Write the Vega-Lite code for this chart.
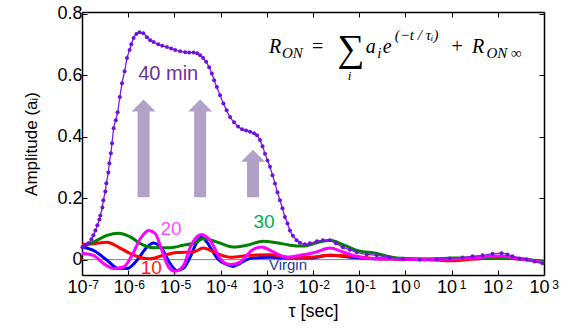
{
  "$schema": "https://vega.github.io/schema/vega-lite/v6.json",
  "width": 462,
  "height": 263,
  "autosize": {"type": "none"},
  "padding": {"left": 82, "top": 12, "right": 24, "bottom": 58},
  "background": "white",
  "config": {"view": {"stroke": null}, "font": "Liberation Sans"},
  "datasets": {
    "curves": [
      {"s":"Virgin","lt":-7.0,"a":0.041},{"s":"Virgin","lt":-6.754,"a":0.030},{"s":"Virgin","lt":-6.458,"a":-0.002},{"s":"Virgin","lt":-6.214,"a":-0.029},{"s":"Virgin","lt":-6.026,"a":-0.029},{"s":"Virgin","lt":-5.81,"a":-0.002},{"s":"Virgin","lt":-5.594,"a":0.041},{"s":"Virgin","lt":-5.458,"a":0.054},{"s":"Virgin","lt":-5.27,"a":0.036},{"s":"Virgin","lt":-5.091,"a":-0.013},{"s":"Virgin","lt":-4.946,"a":-0.035},{"s":"Virgin","lt":-4.81,"a":-0.029},{"s":"Virgin","lt":-4.659,"a":0.008},{"s":"Virgin","lt":-4.514,"a":0.057},{"s":"Virgin","lt":-4.421,"a":0.073},{"s":"Virgin","lt":-4.292,"a":0.056},{"s":"Virgin","lt":-4.184,"a":0.030},{"s":"Virgin","lt":-4.054,"a":0.001},{"s":"Virgin","lt":-3.881,"a":-0.015},{"s":"Virgin","lt":-3.73,"a":-0.022},{"s":"Virgin","lt":-3.579,"a":-0.012},{"s":"Virgin","lt":-3.363,"a":0.004},{"s":"Virgin","lt":-2.931,"a":0.008},{"s":"Virgin","lt":-2.499,"a":0.005},{"s":"Virgin","lt":-2.067,"a":0.005},{"s":"Virgin","lt":-1.635,"a":0.014},{"s":"Virgin","lt":-1.204,"a":0.008},{"s":"Virgin","lt":-0.62,"a":0.003},{"s":"Virgin","lt":-0.3,"a":0.003},{"s":"Virgin","lt":0,"a":0.002},{"s":"Virgin","lt":0.5,"a":0.001},{"s":"Virgin","lt":1,"a":0.003},{"s":"Virgin","lt":1.5,"a":0.004},{"s":"Virgin","lt":2,"a":0.005},{"s":"Virgin","lt":2.5,"a":0.002},{"s":"Virgin","lt":3,"a":-0.008},
      {"s":"10","lt":-7.0,"a":0.050},{"s":"10","lt":-6.754,"a":0.052},{"s":"10","lt":-6.458,"a":0.057},{"s":"10","lt":-6.214,"a":0.041},{"s":"10","lt":-5.955,"a":0.020},{"s":"10","lt":-5.739,"a":0.007},{"s":"10","lt":-5.523,"a":0.003},{"s":"10","lt":-5.235,"a":0.014},{"s":"10","lt":-4.946,"a":0.023},{"s":"10","lt":-4.587,"a":0.025},{"s":"10","lt":-4.378,"a":0.038},{"s":"10","lt":-4.082,"a":0.020},{"s":"10","lt":-3.795,"a":0.008},{"s":"10","lt":-3.363,"a":0.014},{"s":"10","lt":-2.931,"a":0.016},{"s":"10","lt":-2.499,"a":0.008},{"s":"10","lt":-2.067,"a":0.008},{"s":"10","lt":-1.635,"a":0.014},{"s":"10","lt":-1.204,"a":0.012},{"s":"10","lt":-0.62,"a":0.003},{"s":"10","lt":-0.3,"a":0.002},{"s":"10","lt":0,"a":0.001},{"s":"10","lt":0.5,"a":0.0},{"s":"10","lt":1,"a":-0.004},{"s":"10","lt":1.5,"a":0.002},{"s":"10","lt":2,"a":0.006},{"s":"10","lt":2.5,"a":0.001},{"s":"10","lt":3,"a":-0.008},
      {"s":"30","lt":-7.0,"a":0.041},{"s":"30","lt":-6.754,"a":0.057},{"s":"30","lt":-6.458,"a":0.079},{"s":"30","lt":-6.214,"a":0.086},{"s":"30","lt":-5.955,"a":0.074},{"s":"30","lt":-5.739,"a":0.052},{"s":"30","lt":-5.458,"a":0.039},{"s":"30","lt":-5.091,"a":0.039},{"s":"30","lt":-4.81,"a":0.047},{"s":"30","lt":-4.514,"a":0.057},{"s":"30","lt":-4.378,"a":0.069},{"s":"30","lt":-4.076,"a":0.057},{"s":"30","lt":-3.73,"a":0.041},{"s":"30","lt":-3.428,"a":0.047},{"s":"30","lt":-3.082,"a":0.060},{"s":"30","lt":-2.78,"a":0.055},{"s":"30","lt":-2.499,"a":0.047},{"s":"30","lt":-2.218,"a":0.044},{"s":"30","lt":-1.916,"a":0.055},{"s":"30","lt":-1.635,"a":0.063},{"s":"30","lt":-1.354,"a":0.049},{"s":"30","lt":-1.052,"a":0.030},{"s":"30","lt":-0.62,"a":0.020},{"s":"30","lt":-0.3,"a":0.008},{"s":"30","lt":0,"a":0.004},{"s":"30","lt":0.5,"a":0.002},{"s":"30","lt":1,"a":0.005},{"s":"30","lt":1.5,"a":0.006},{"s":"30","lt":2,"a":0.008},{"s":"30","lt":2.5,"a":0.003},{"s":"30","lt":3,"a":-0.007},
      {"s":"20","lt":-7.0,"a":0.021},{"s":"20","lt":-6.754,"a":0.014},{"s":"20","lt":-6.531,"a":-0.013},{"s":"20","lt":-6.315,"a":-0.029},{"s":"20","lt":-6.099,"a":-0.024},{"s":"20","lt":-5.918,"a":0.014},{"s":"20","lt":-5.739,"a":0.068},{"s":"20","lt":-5.559,"a":0.095},{"s":"20","lt":-5.415,"a":0.085},{"s":"20","lt":-5.27,"a":0.030},{"s":"20","lt":-5.127,"a":-0.024},{"s":"20","lt":-4.983,"a":-0.038},{"s":"20","lt":-4.803,"a":-0.019},{"s":"20","lt":-4.659,"a":0.040},{"s":"20","lt":-4.514,"a":0.074},{"s":"20","lt":-4.421,"a":0.082},{"s":"20","lt":-4.292,"a":0.073},{"s":"20","lt":-4.184,"a":0.053},{"s":"20","lt":-4.011,"a":0.003},{"s":"20","lt":-3.795,"a":-0.016},{"s":"20","lt":-3.579,"a":-0.008},{"s":"20","lt":-3.326,"a":0.030},{"s":"20","lt":-3.11,"a":0.041},{"s":"20","lt":-2.86,"a":0.025},{"s":"20","lt":-2.57,"a":0.008},{"s":"20","lt":-2.283,"a":0.014},{"s":"20","lt":-1.922,"a":0.025},{"s":"20","lt":-1.635,"a":0.038},{"s":"20","lt":-1.348,"a":0.025},{"s":"20","lt":-0.987,"a":0.008},{"s":"20","lt":-0.555,"a":0.003},{"s":"20","lt":-0.3,"a":0.003},{"s":"20","lt":0,"a":0.001},{"s":"20","lt":0.5,"a":0.0},{"s":"20","lt":1,"a":0.002},{"s":"20","lt":1.5,"a":0.006},{"s":"20","lt":2,"a":0.012},{"s":"20","lt":2.5,"a":0.003},{"s":"20","lt":3,"a":-0.010}
    ],
    "purple": [
      {"lt":-6.991,"a":0.040},{"lt":-6.927,"a":0.047},{"lt":-6.862,"a":0.053},{"lt":-6.797,"a":0.066},{"lt":-6.754,"a":0.079},{"lt":-6.711,"a":0.095},{"lt":-6.667,"a":0.112},{"lt":-6.624,"a":0.131},{"lt":-6.603,"a":0.144},{"lt":-6.559,"a":0.170},{"lt":-6.538,"a":0.193},{"lt":-6.495,"a":0.222},{"lt":-6.473,"a":0.249},{"lt":-6.43,"a":0.284},{"lt":-6.408,"a":0.314},{"lt":-6.376,"a":0.346},{"lt":-6.35,"a":0.379},{"lt":-6.315,"a":0.428},{"lt":-6.268,"a":0.454},{"lt":-6.229,"a":0.480},{"lt":-6.181,"a":0.529},{"lt":-6.134,"a":0.574},{"lt":-6.078,"a":0.613},{"lt":-6.026,"a":0.656},{"lt":-5.97,"a":0.682},{"lt":-5.933,"a":0.701},{"lt":-5.883,"a":0.721},{"lt":-5.825,"a":0.734},{"lt":-5.754,"a":0.740},{"lt":-5.674,"a":0.737},{"lt":-5.594,"a":0.724},{"lt":-5.523,"a":0.714},{"lt":-5.451,"a":0.708},{"lt":-5.35,"a":0.701},{"lt":-5.264,"a":0.696},{"lt":-5.162,"a":0.692},{"lt":-5.069,"a":0.687},{"lt":-4.983,"a":0.682},{"lt":-4.875,"a":0.678},{"lt":-4.767,"a":0.675},{"lt":-4.68,"a":0.674},{"lt":-4.587,"a":0.674},{"lt":-4.508,"a":0.672},{"lt":-4.443,"a":0.665},{"lt":-4.378,"a":0.656},{"lt":-4.313,"a":0.644},{"lt":-4.248,"a":0.626},{"lt":-4.19,"a":0.606},{"lt":-4.14,"a":0.584},{"lt":-4.082,"a":0.562},{"lt":-4.011,"a":0.535},{"lt":-3.94,"a":0.508},{"lt":-3.87,"a":0.486},{"lt":-3.795,"a":0.464},{"lt":-3.708,"a":0.447},{"lt":-3.622,"a":0.433},{"lt":-3.536,"a":0.424},{"lt":-3.449,"a":0.420},{"lt":-3.363,"a":0.416},{"lt":-3.277,"a":0.411},{"lt":-3.212,"a":0.405},{"lt":-3.147,"a":0.389},{"lt":-3.093,"a":0.369},{"lt":-3.039,"a":0.345},{"lt":-2.985,"a":0.323},{"lt":-2.931,"a":0.302},{"lt":-2.877,"a":0.275},{"lt":-2.823,"a":0.248},{"lt":-2.769,"a":0.219},{"lt":-2.715,"a":0.193},{"lt":-2.661,"a":0.167},{"lt":-2.607,"a":0.139},{"lt":-2.553,"a":0.118},{"lt":-2.499,"a":0.095},{"lt":-2.434,"a":0.078},{"lt":-2.354,"a":0.063},{"lt":-2.283,"a":0.055},{"lt":-2.175,"a":0.050},{"lt":-2.067,"a":0.053},{"lt":-1.916,"a":0.060},{"lt":-1.786,"a":0.063},{"lt":-1.635,"a":0.063},{"lt":-1.505,"a":0.053},{"lt":-1.354,"a":0.040},{"lt":-1.203,"a":0.032},{"lt":-1.052,"a":0.024},{"lt":-0.836,"a":0.017},{"lt":-0.62,"a":0.014},{"lt":-0.339,"a":0.007},{"lt":-0.058,"a":0.001},{"lt":0.309,"a":0.0},{"lt":0.676,"a":0.001},{"lt":0.957,"a":0.004},{"lt":1.238,"a":0.007},{"lt":1.454,"a":0.011},{"lt":1.67,"a":0.014},{"lt":1.886,"a":0.019},{"lt":2.08,"a":0.021},{"lt":2.21,"a":0.017},{"lt":2.318,"a":0.011},{"lt":2.469,"a":0.004},{"lt":2.62,"a":0.001},{"lt":2.793,"a":-0.006},{"lt":2.966,"a":-0.012}
    ],
    "arrows": [
      {"lt":-5.667,"base":0.203,"neck":0.485,"head":0.502},
      {"lt":-4.443,"base":0.203,"neck":0.485,"head":0.502},
      {"lt":-3.298,"base":0.203,"neck":0.322,"head":0.338}
    ],
    "eq": [
      {"t":"R","g":"big","lt":-2.952,"a":0.671},
      {"t":"a","g":"big","lt":-0.857,"a":0.671},
      {"t":"e","g":"big","lt":-0.49,"a":0.671},
      {"t":"R","g":"big","lt":1.443,"a":0.671},
      {"t":"=","g":"op","lt":-2.02,"a":0.672},
      {"t":"+","g":"op","lt":1.0,"a":0.672},
      {"t":"∑","g":"sum","lt":-1.47,"a":0.646},
      {"t":"ON","g":"small","lt":-2.672,"a":0.656},
      {"t":"i","g":"under","lt":-1.246,"a":0.584},
      {"t":"i","g":"small","lt":-0.609,"a":0.656},
      {"t":"(−t / τᵢ)","g":"small","lt":-0.231,"a":0.714},
      {"t":"ON ∞","g":"small","lt":1.756,"a":0.656}
    ]
  },
  "layer": [
    {
      "data": {"values": [{"a": 0}]},
      "mark": {"type": "rule", "color": "#808080", "strokeWidth": 1},
      "encoding": {"y": {"field": "a", "type": "quantitative", "scale": {"domain": [-0.05, 0.806], "nice": false, "zero": false}, "axis": null}}
    },
    {
      "data": {"name": "arrows"},
      "mark": {"type": "rule", "color": "#b2a1c7", "strokeWidth": 12, "strokeCap": "butt"},
      "encoding": {
        "x": {"field": "lt", "type": "quantitative", "scale": {"domain": [-7, 3], "nice": false, "zero": false},
          "axis": {"orient": "top", "values": [-7,-6,-5,-4,-3,-2,-1,0,1,2,3], "labels": false, "title": null, "grid": false, "tickSize": -5, "tickColor": "black", "tickWidth": 1, "domainColor": "black", "domainWidth": 1.5}},
        "y": {"field": "base", "type": "quantitative", "scale": {"domain": [-0.05, 0.806], "nice": false, "zero": false},
          "axis": {"orient": "right", "values": [0, 0.2, 0.4, 0.6, 0.8], "labels": false, "title": null, "grid": false, "tickSize": -5, "tickColor": "black", "tickWidth": 1, "domainColor": "black", "domainWidth": 1.5}},
        "y2": {"field": "neck"}
      }
    },
    {
      "data": {"name": "arrows"},
      "mark": {"type": "point", "filled": true, "opacity": 1, "color": "#b2a1c7", "shape": "M-1,0.5L0,-0.5L1,0.5Z", "size": 576},
      "encoding": {
        "x": {"field": "lt", "type": "quantitative", "axis": null},
        "y": {"field": "head", "type": "quantitative", "axis": null}
      }
    },
    {
      "data": {"name": "curves"},
      "mark": {"type": "line", "strokeWidth": 3, "interpolate": "monotone"},
      "encoding": {
        "x": {"field": "lt", "type": "quantitative", "scale": {"domain": [-7, 3], "nice": false, "zero": false},
          "axis": {"orient": "bottom", "values": [-7,-6,-5,-4,-3,-2,-1,0,1,2,3], "labelOverlap": false, "labelFlush": false, "labelExpr": "'10'", "labelOffset": -5, "labelFont": "Liberation Sans", "labelFontSize": 18, "labelColor": "black", "labelPadding": 8.5, "title": "τ [sec]", "titleFont": "Liberation Sans", "titleFontSize": 18, "titleFontWeight": "normal", "titleColor": "black", "titlePadding": 6, "grid": false, "tickSize": -5, "tickColor": "black", "tickWidth": 1, "domainColor": "black", "domainWidth": 1.5}},
        "y": {"field": "a", "type": "quantitative", "scale": {"domain": [-0.05, 0.806], "nice": false, "zero": false},
          "axis": {"orient": "left", "values": [0, 0.2, 0.4, 0.6, 0.8], "format": ".1~f", "labelFont": "Liberation Sans", "labelFontSize": 18, "labelColor": "black", "labelPadding": 5, "title": "Amplitude (aᵢ)", "titleFont": "Liberation Sans", "titleFontSize": 17, "titleFontWeight": "normal", "titleColor": "black", "titlePadding": 16, "grid": false, "tickSize": -5, "tickColor": "black", "tickWidth": 1, "domainColor": "black", "domainWidth": 1.5}},
        "color": {"field": "s", "type": "nominal", "scale": {"domain": ["Virgin", "10", "20", "30"], "range": ["#0000ff", "#ff0000", "#ff00ff", "#008000"]}, "legend": null}
      }
    },
    {
      "data": {"name": "purple"},
      "mark": {"type": "line", "strokeWidth": 1.3, "interpolate": "monotone", "color": "#7a1ee6"},
      "encoding": {
        "x": {"field": "lt", "type": "quantitative", "axis": null},
        "y": {"field": "a", "type": "quantitative", "axis": null}
      }
    },
    {
      "data": {"name": "purple"},
      "mark": {"type": "point", "filled": true, "opacity": 1, "size": 16, "color": "#7010e0"},
      "encoding": {
        "x": {"field": "lt", "type": "quantitative",
          "axis": {"orient": "bottom", "values": [-7,-6,-5,-4,-3,-2,-1,0,1,2,3], "labelOverlap": false, "labelFlush": false, "labelExpr": "['-7','-6','-5','-4','-3','-2','-1','0','1','2','3'][round(datum.value)+7]", "labelOffset": 11, "labelFont": "Liberation Sans", "labelFontSize": 12, "labelColor": "black", "labelPadding": 4, "title": null, "grid": false, "ticks": false, "domain": false}},
        "y": {"field": "a", "type": "quantitative", "axis": null}
      }
    },
    {
      "data": {"values": [{"t": "40 min", "lt": -5.134, "a": 0.584}]},
      "mark": {"type": "text", "font": "Liberation Sans", "fontSize": 20, "color": "#7030a0", "align": "center", "baseline": "alphabetic"},
      "encoding": {"x": {"field": "lt", "type": "quantitative", "axis": null}, "y": {"field": "a", "type": "quantitative", "axis": null}, "text": {"field": "t"}}
    },
    {
      "data": {"values": [{"t": "20", "lt": -5.073, "a": 0.080}]},
      "mark": {"type": "text", "font": "Liberation Sans", "fontSize": 19, "color": "#ff4dff", "align": "center", "baseline": "alphabetic"},
      "encoding": {"x": {"field": "lt", "type": "quantitative", "axis": null}, "y": {"field": "a", "type": "quantitative", "axis": null}, "text": {"field": "t"}}
    },
    {
      "data": {"values": [{"t": "10", "lt": -5.501, "a": -0.048}]},
      "mark": {"type": "text", "font": "Liberation Sans", "fontSize": 19, "color": "#ff1a1a", "align": "center", "baseline": "alphabetic"},
      "encoding": {"x": {"field": "lt", "type": "quantitative", "axis": null}, "y": {"field": "a", "type": "quantitative", "axis": null}, "text": {"field": "t"}}
    },
    {
      "data": {"values": [{"t": "30", "lt": -3.06, "a": 0.103}]},
      "mark": {"type": "text", "font": "Liberation Sans", "fontSize": 19, "color": "#00b050", "align": "center", "baseline": "alphabetic"},
      "encoding": {"x": {"field": "lt", "type": "quantitative", "axis": null}, "y": {"field": "a", "type": "quantitative", "axis": null}, "text": {"field": "t"}}
    },
    {
      "data": {"values": [{"t": "Virgin", "lt": -2.542, "a": -0.035}]},
      "mark": {"type": "text", "font": "Liberation Sans", "fontSize": 15, "color": "#1f3a93", "align": "center", "baseline": "alphabetic"},
      "encoding": {"x": {"field": "lt", "type": "quantitative", "axis": null}, "y": {"field": "a", "type": "quantitative", "axis": null}, "text": {"field": "t"}}
    },
    {
      "data": {"name": "eq"},
      "transform": [{"filter": "datum.g == 'big'"}],
      "mark": {"type": "text", "font": "Liberation Serif", "fontStyle": "italic", "fontSize": 20, "color": "black", "align": "left", "baseline": "alphabetic"},
      "encoding": {"x": {"field": "lt", "type": "quantitative", "axis": null}, "y": {"field": "a", "type": "quantitative", "axis": null}, "text": {"field": "t"}}
    },
    {
      "data": {"name": "eq"},
      "transform": [{"filter": "datum.g == 'op'"}],
      "mark": {"type": "text", "font": "Liberation Serif", "fontSize": 20, "color": "black", "align": "left", "baseline": "alphabetic"},
      "encoding": {"x": {"field": "lt", "type": "quantitative", "axis": null}, "y": {"field": "a", "type": "quantitative", "axis": null}, "text": {"field": "t"}}
    },
    {
      "data": {"name": "eq"},
      "transform": [{"filter": "datum.g == 'sum'"}],
      "mark": {"type": "text", "font": "Liberation Serif", "fontSize": 38, "color": "black", "align": "left", "baseline": "alphabetic"},
      "encoding": {"x": {"field": "lt", "type": "quantitative", "axis": null}, "y": {"field": "a", "type": "quantitative", "axis": null}, "text": {"field": "t"}}
    },
    {
      "data": {"name": "eq"},
      "transform": [{"filter": "datum.g == 'small'"}],
      "mark": {"type": "text", "font": "Liberation Serif", "fontStyle": "italic", "fontSize": 15, "color": "black", "align": "left", "baseline": "alphabetic"},
      "encoding": {"x": {"field": "lt", "type": "quantitative", "axis": null}, "y": {"field": "a", "type": "quantitative", "axis": null}, "text": {"field": "t"}}
    },
    {
      "data": {"name": "eq"},
      "transform": [{"filter": "datum.g == 'under'"}],
      "mark": {"type": "text", "font": "Liberation Serif", "fontStyle": "italic", "fontSize": 13, "color": "black", "align": "left", "baseline": "alphabetic"},
      "encoding": {"x": {"field": "lt", "type": "quantitative", "axis": null}, "y": {"field": "a", "type": "quantitative", "axis": null}, "text": {"field": "t"}}
    }
  ],
  "resolve": {"axis": {"x": "independent", "y": "independent"}}
}
